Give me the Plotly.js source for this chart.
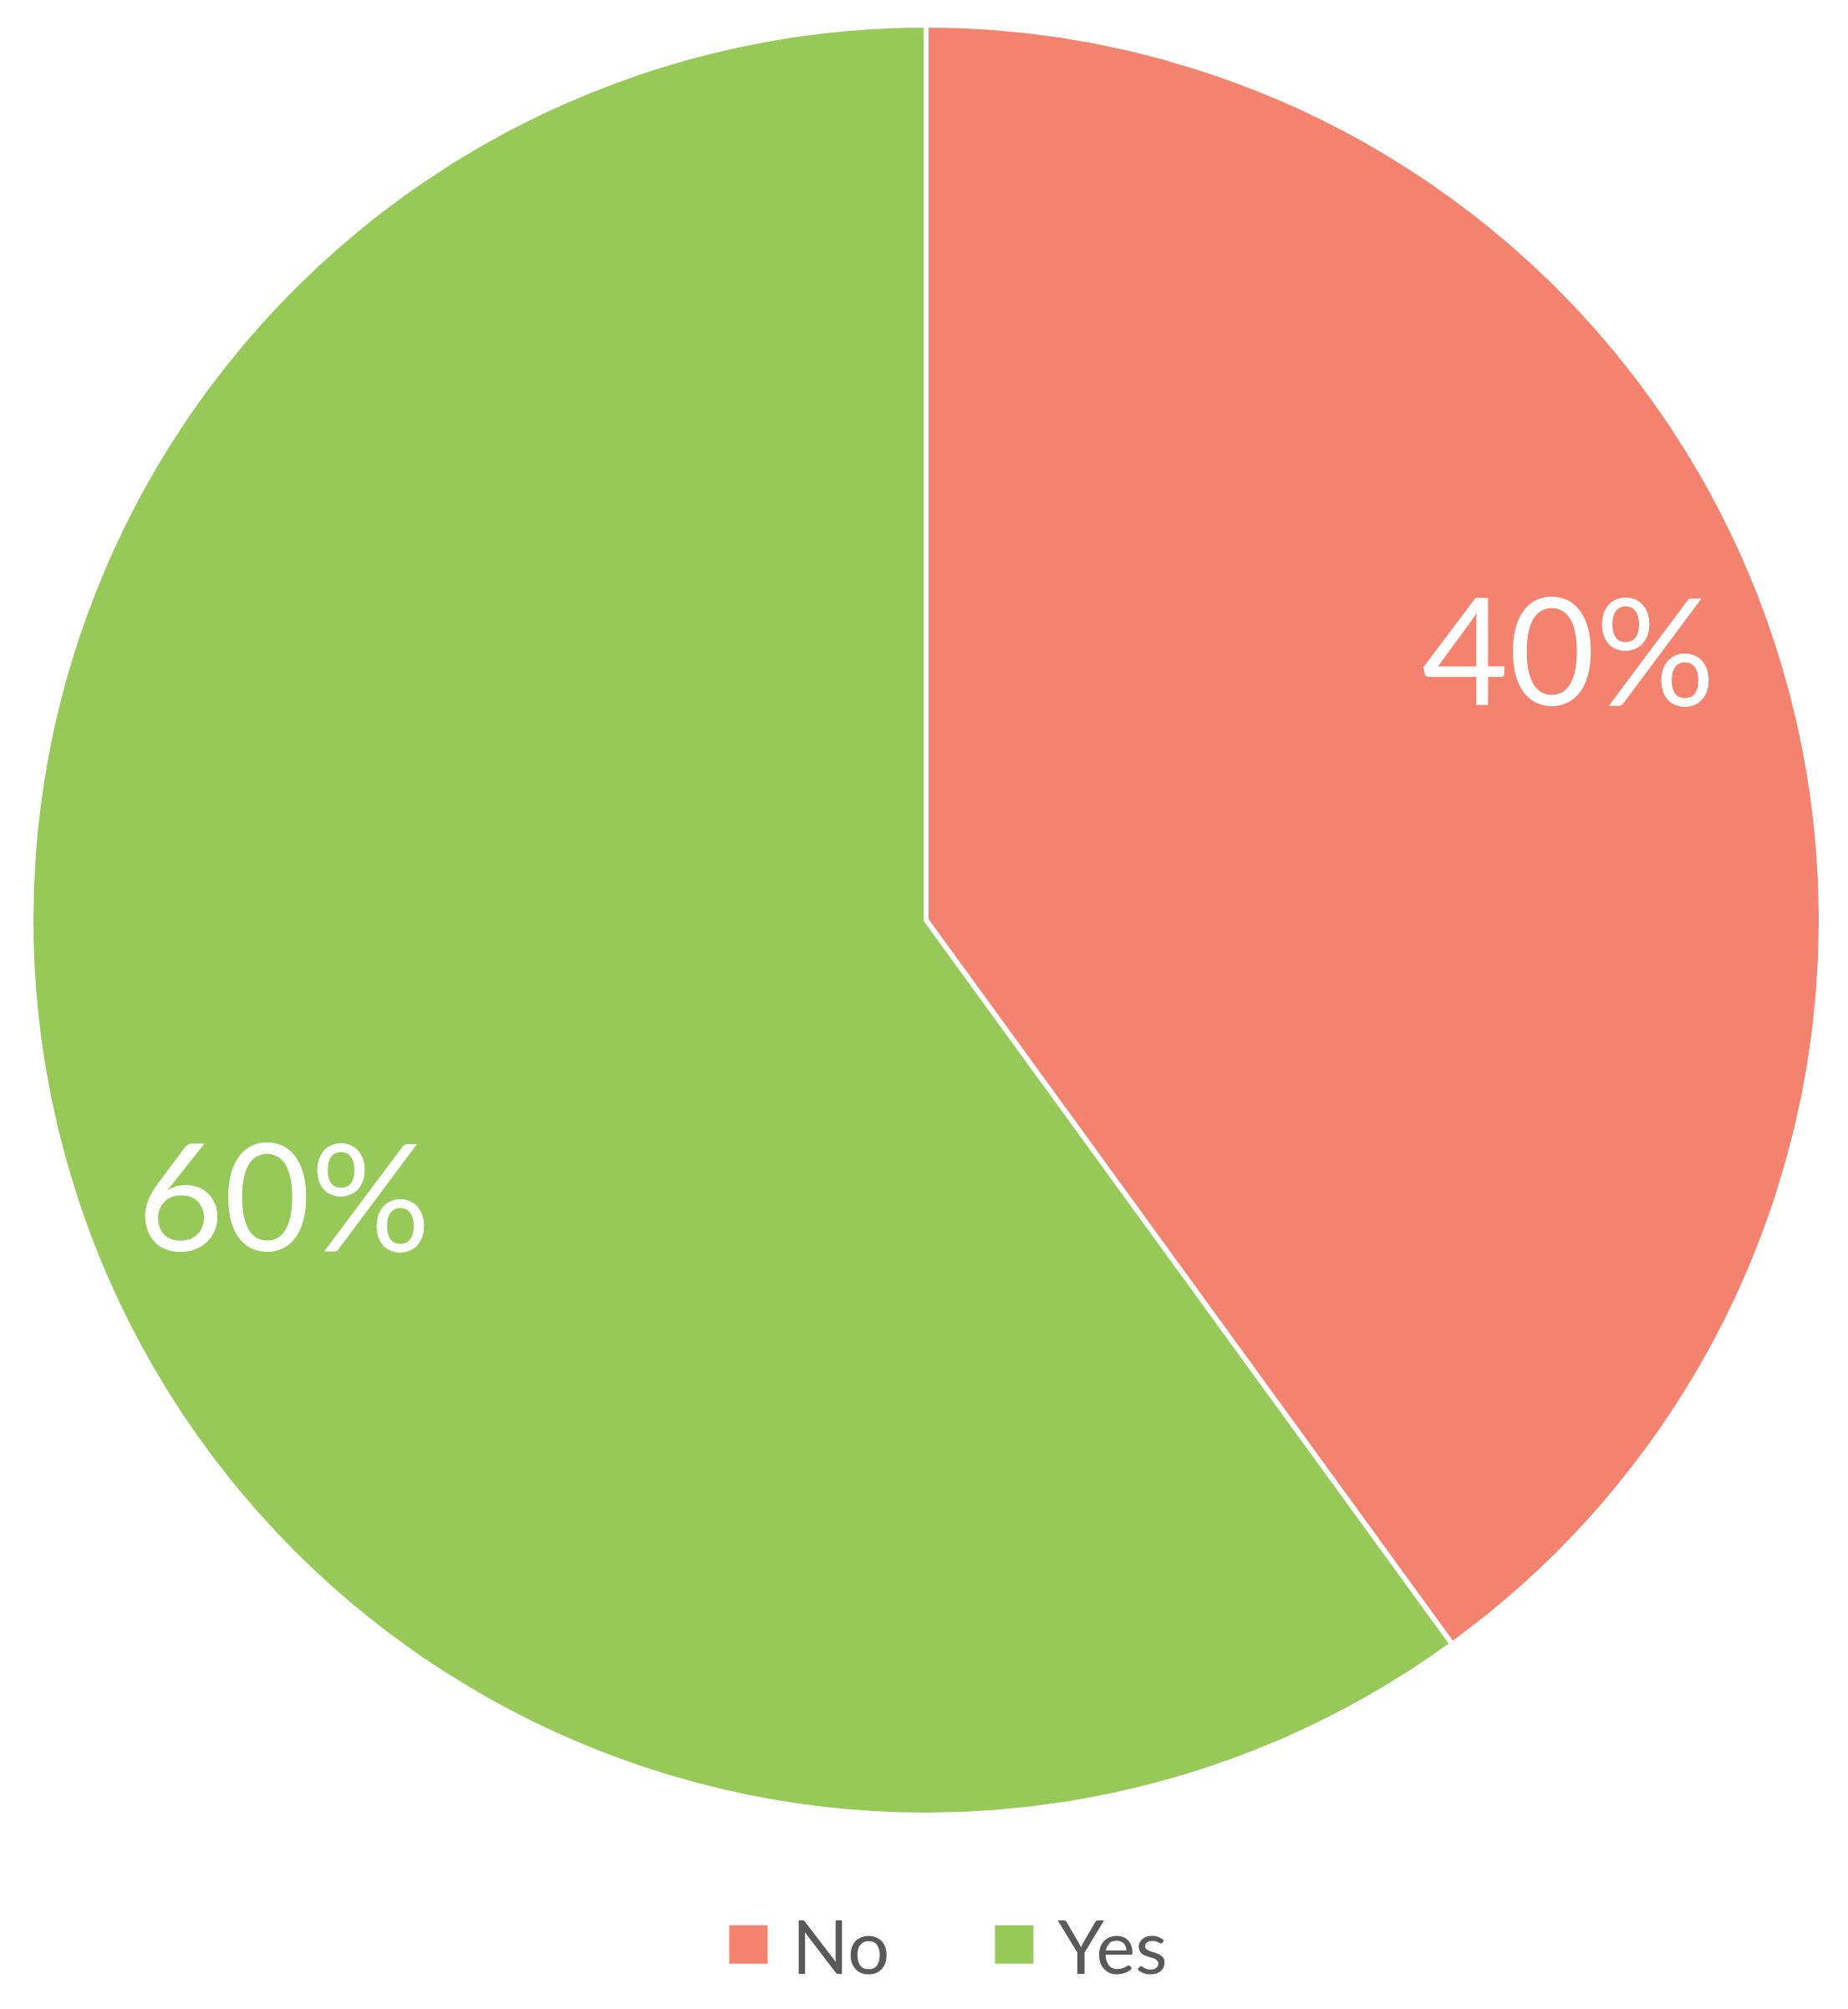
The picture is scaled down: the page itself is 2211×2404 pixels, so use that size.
<!DOCTYPE html>
<html>
<head>
<meta charset="utf-8">
<script src="https://cdn.plot.ly/plotly-3.0.1.min.js"></script>
<style>html,body{margin:0;padding:0;background:#fff;}#chart{width:2211px;height:2404px;}</style>
</head>
<body>
<div id="chart"></div>
<script>
const categories = ["No", "Yes"];
const values = [40, 60];
const sliceColors = ["#F3826E", "#96C957"];

const W = 2211, H = 2404;
const FONT = "Lato, 'Open Sans', sans-serif";
// pie geometry (style)
const domX = [37 / W, 2179 / W];
const domY = [1 - 2172 / H, 1 - 30 / H];
const labelRadiusFrac = 0.78;
const labelAngleShiftDeg = -5;

const data = [{
  type: "pie",
  labels: categories,
  values: values,
  sort: false,
  direction: "clockwise",
  rotation: 0,
  marker: { colors: sliceColors, line: { color: "#ffffff", width: 6 } },
  textinfo: "none",
  domain: { x: domX, y: domY },
  hoverinfo: "none",
  showlegend: true
}];

// percent labels positioned along each slice's bisector, computed from the data
const total = values.reduce((a, b) => a + b, 0);
const cxPx = (domX[0] + domX[1]) / 2 * W;
const cyPx = (1 - (domY[0] + domY[1]) / 2) * H;
const Rpx = Math.min((domX[1] - domX[0]) * W, (domY[1] - domY[0]) * H) / 2;
const annotations = [];
let cum = 0;
values.forEach(function (v, i) {
  const mid = (cum + v / 2) / total * 360 + labelAngleShiftDeg;
  cum += v;
  const th = mid * Math.PI / 180;
  const px = cxPx + labelRadiusFrac * Rpx * Math.sin(th);
  const py = cyPx - labelRadiusFrac * Rpx * Math.cos(th);
  annotations.push({
    xref: "paper", yref: "paper",
    x: px / W, y: 1 - py / H,
    xanchor: "center", yanchor: "middle",
    showarrow: false,
    text: Math.round(v / total * 100) + "%",
    font: { family: FONT, size: 179, color: "#ffffff" }
  });
});

const layout = {
  width: W,
  height: H,
  margin: { l: 0, r: 0, t: 0, b: 0 },
  paper_bgcolor: "#ffffff",
  showlegend: true,
  annotations: annotations,
  legend: {
    orientation: "h",
    x: 0.5253, xanchor: "center",
    y: 1 - 2327 / H, yanchor: "middle",
    font: { family: FONT, size: 89, color: "#595959" },
    itemwidth: 94,
    entrywidth: 209,
    entrywidthmode: "pixels",
    traceorder: "normal"
  }
};

Plotly.newPlot("chart", data, layout, { staticPlot: true }).then(function () {
  document.querySelectorAll("#chart .legend .legendpoints path").forEach(function (p) {
    const t = p.getAttribute("transform") || "";
    p.setAttribute("transform", t + " scale(3.83)");
    p.style.strokeWidth = "0";
  });
});
</script>
</body>
</html>
